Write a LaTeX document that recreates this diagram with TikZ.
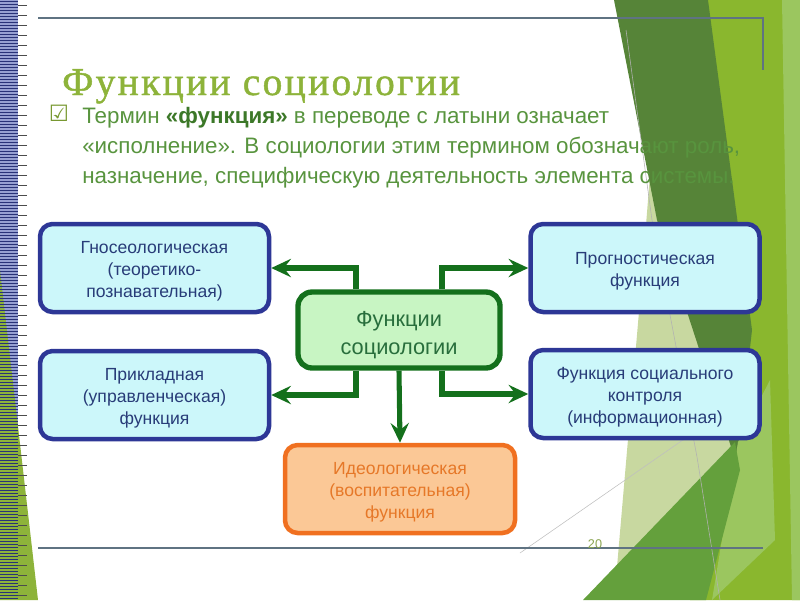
\documentclass[tikz,border=0pt]{standalone}
\usepackage{fontspec}
\setmainfont{Liberation Sans}
\newfontfamily\titlefont[LetterSpace=6,FakeBold=1.2]{Liberation Serif}
\newfontfamily\symfont{DejaVu Sans}
\usepackage{tikz}
\usetikzlibrary{calc,positioning,arrows.meta}

\definecolor{boxblue}{RGB}{45,55,150}
\definecolor{boxfill}{RGB}{204,247,250}
\definecolor{boxtext}{RGB}{40,60,120}
\definecolor{fgreen}{RGB}{20,112,28}
\definecolor{ffill}{RGB}{200,245,195}
\definecolor{ftext}{RGB}{40,110,60}
\definecolor{oborder}{RGB}{240,112,32}
\definecolor{ofill}{RGB}{251,200,150}
\definecolor{otext}{RGB}{230,120,40}
\definecolor{titlecol}{RGB}{141,179,58}
\definecolor{bodycol}{RGB}{88,148,62}
\definecolor{boldcol}{RGB}{60,120,40}
\definecolor{rulecol}{RGB}{95,115,130}
\definecolor{darkband}{RGB}{86,132,56}
\definecolor{yellowgr}{RGB}{138,183,46}
\definecolor{lightgr}{RGB}{200,216,160}
\definecolor{midgr}{RGB}{100,160,60}
\definecolor{paleg}{RGB}{155,198,95}
\definecolor{stripeb}{RGB}{150,160,210}
\definecolor{stripen}{RGB}{40,50,120}

\begin{document}
\begin{tikzpicture}[x=0.025cm,y=-0.025cm,
	box/.style={shape=rectangle,draw=boxblue,fill=boxfill,line width=3.2pt,rounded corners=9pt,minimum width={229*0.025cm},minimum height={88*0.025cm},text=boxtext,align=center,font=\fontsize{12.5}{15.6}\selectfont},
	arr/.style={draw=fgreen,line width=3.6pt,-{Stealth[length=14pt,width=13pt,inset=5pt]}}]
		\useasboundingbox (0,0) rectangle (800,600);
		% decoration on the right
		\fill[yellowgr] (700,0) -- (800,0) -- (800,600) -- (690,600) -- cycle;
		\fill[paleg] (782,0) -- (800,0) -- (800,600) -- (792,600) -- cycle;
		\fill[lightgr] (650,175) -- (705,175) -- (745,470) -- (617,567) -- (640,300) -- cycle;
		\fill[darkband] (614,0) -- (708,0) -- (752,330) -- (737,465) -- (657,220) -- cycle;
		\fill[paleg] (738,442) -- (770,380) -- (775,540) -- (712,600) -- cycle;
		\fill[midgr] (583,600) -- (735,442) -- (740,470) -- (706,600) -- cycle;
		\draw[gray!60,line width=0.4pt] (626,30) -- (652,220) -- (697,457) -- (720,600);
		\draw[gray!50,line width=0.4pt] (520,553) -- (690,435);
		% stripe on the left
		\fill[stripeb] (0,0) rectangle (18,600);
		\fill[titlecol] (0,270) -- (38,600) -- (0,600) -- cycle;
		\foreach \i in {0,3,...,597}
			\draw[stripen,line width=0.7pt] (0,\i+1.5) -- (18,\i+1.5);
		\foreach \i in {5,15,...,595}
			\draw[black!70,line width=0.5pt] (18,\i) -- (27,\i);
		% rules
		\draw[rulecol,line width=1.8pt] (38,18) -- (763,18) -- (763,70);
		\draw[rulecol,line width=1.8pt] (38,548) -- (763,548);
		\node(pg) at (595,544) [text=titlecol!70!gray,font=\fontsize{9}{10}\selectfont] {20};
		% title and text
		\node(t) at (62,95) [anchor=base west,inner sep=0,text=titlecol,font=\titlefont\fontsize{28}{32}\selectfont] {Функции социологии};
		\node(chk) at (59,113) [text=titlecol!85!black,font=\symfont\fontsize{16}{17}\selectfont] {☑};
		\node(txt) at (82,107) [anchor=north west,inner sep=0,align=left,text=bodycol,font=\fontsize{15.9}{21.3}\selectfont] {Термин \textbf{\textcolor{boldcol}{«функция»}} в переводе с латыни означает\\«исполнение». В социологии этим термином обозначают роль,\\назначение, специфическую деятельность элемента системы.};
		% boxes
		\node(f) at (399,330) [shape=rectangle,draw=fgreen,fill=ffill,line width=3.8pt,rounded corners=10pt,minimum width={202*0.025cm},minimum height={76*0.025cm},text=ftext,align=center,font=\fontsize{15.5}{20}\selectfont] {\rule{0pt}{18pt}Функции\\социологии};
		\node(1) at (154.5,268) [box] {\rule{0pt}{13.5pt}Гносеологическая\\(теоретико-\\познавательная)};
		\node(2) at (154.5,395) [box] {\rule{0pt}{13.5pt}Прикладная\\(управленческая)\\функция};
		\node(3) at (645,268) [box] {\rule{0pt}{13.5pt}Прогностическая\\функция};
		\node(4) at (645,394) [box] {\rule{0pt}{13.5pt}Функция социального\\контроля\\(информационная)};
		\node(5) at (400,489) [box,draw=oborder,fill=ofill,text=otext,minimum width={230*0.025cm}] {\rule{0pt}{13.5pt}Идеологическая\\(воспитательная)\\функция};
		% arrows
		\draw[arr] ($(f.north)+(-43,0)$) |- (1.east);
		\draw[arr] ($(f.north)+(43,0)$) |- (3.west);
		\draw[arr] ($(f.south)+(-43,0)$) |- (2.east);
		\draw[arr] ($(f.south)+(43,0)$) |- (4.west);
		\draw[arr] (f.south) -- (5.north);
	\end{tikzpicture}
\end{document}
